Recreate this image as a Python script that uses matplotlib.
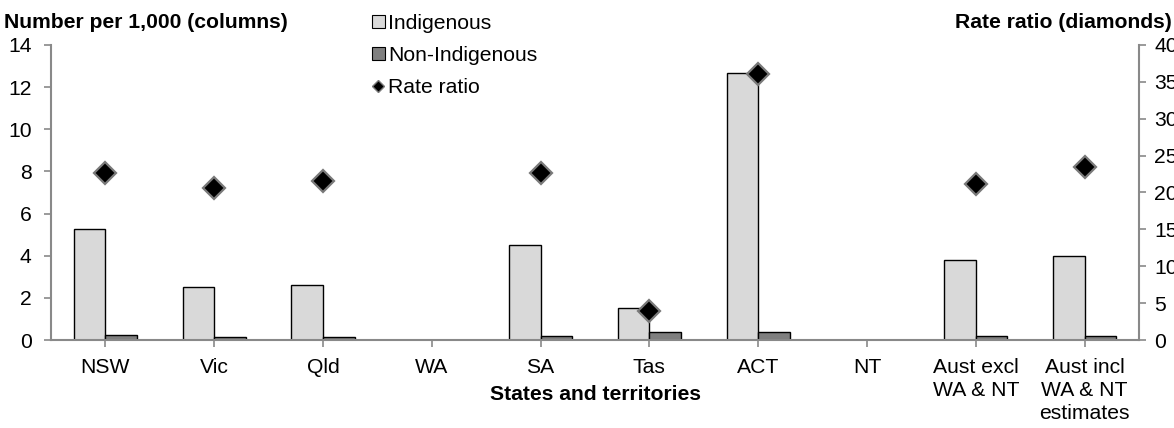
import matplotlib
matplotlib.use("Agg")
import matplotlib.pyplot as plt
import numpy as np
from matplotlib.lines import Line2D
from matplotlib.patches import Patch

categories = ["NSW", "Vic", "Qld", "WA", "SA", "Tas", "ACT", "NT",
              "Aust excl\nWA & NT", "Aust incl\nWA & NT\nestimates"]
indigenous = [5.25, 2.5, 2.6, np.nan, 4.5, 1.5, 12.65, np.nan, 3.8, 4.0]
non_indigenous = [0.25, 0.15, 0.15, np.nan, 0.2, 0.4, 0.38, np.nan, 0.2, 0.18]
rate_ratio = [22.7, 20.6, 21.5, np.nan, 22.6, 3.9, 36.1, np.nan, 21.1, 23.5]
left_ticks = [0, 2, 4, 6, 8, 10, 12, 14]
right_ticks = [0, 5, 10, 15, 20, 25, 30, 35, 40]

plt.rcParams['font.family'] = ['Liberation Sans', 'DejaVu Sans']
FS = 15.2
axis_col = '#898989'

fig = plt.figure(figsize=(11.74, 4.28), dpi=100)
ax = fig.add_axes([51/1174, 1-340/428, (1139-51)/1174, 295/428])
x = np.arange(len(categories))
w = 0.29
ax.bar(x - w/2, indigenous, w, color='#d9d9d9', edgecolor='black', linewidth=1.0, zorder=2)
ax.bar(x + w/2, non_indigenous, w, color='#7f7f7f', edgecolor='black', linewidth=1.0, zorder=2)
ax.set_xlim(-0.5, len(categories) - 0.5)
ax.set_ylim(0, 14)
ax.set_yticks(left_ticks)
ax.set_xticks(x)
ax.set_xticklabels(categories, fontsize=FS, linespacing=1.28)
ax.tick_params(axis='y', labelsize=FS, direction='out', length=5, width=1.2, color=axis_col, pad=9)
ax.tick_params(axis='x', direction='out', length=5, width=1.2, color=axis_col, pad=8)
for s in ['top', 'right']:
    ax.spines[s].set_visible(False)
for s in ['left', 'bottom']:
    ax.spines[s].set_color(axis_col)
    ax.spines[s].set_linewidth(1.5)

ax2 = ax.twinx()
ax2.set_ylim(0, 40)
ax2.set_yticks(right_ticks)
ax2.plot(x, rate_ratio, linestyle='none', marker='D', markersize=11.5,
         markerfacecolor='black', markeredgecolor='#7a7a7a', markeredgewidth=1.6, zorder=5)
ax2.tick_params(axis='y', labelsize=FS, direction='out', length=5, width=1.2, color=axis_col, pad=6)
for s in ['top', 'left', 'bottom']:
    ax2.spines[s].set_visible(False)
ax2.spines['right'].set_color(axis_col)
ax2.spines['right'].set_linewidth(1.5)

fig.text(4/1174, 1-22/428, "Number per 1,000 (columns)", fontsize=FS, fontweight='bold',
         ha='left', va='center')
fig.text(1172/1174, 1-22/428, "Rate ratio (diamonds)", fontsize=FS, fontweight='bold',
         ha='right', va='center')
fig.text(596/1174, 1-394/428, "States and territories", fontsize=FS, fontweight='bold',
         ha='center', va='center')

handles = [Patch(facecolor='#d9d9d9', edgecolor='black', linewidth=0.8),
           Patch(facecolor='#7f7f7f', edgecolor='black', linewidth=0.8),
           Line2D([], [], linestyle='none', marker='D', markersize=6,
                  markerfacecolor='black', markeredgecolor='#7a7a7a', markeredgewidth=1)]
fig.legend(handles, ["Indigenous", "Non-Indigenous", "Rate ratio"],
           loc='upper left', bbox_to_anchor=(372/1174, 1 - 14/428), frameon=False,
           fontsize=FS, handlelength=0.6, handleheight=0.6, handletextpad=0.15,
           labelspacing=0.62, borderaxespad=0, borderpad=0)

fig.savefig("out.png", dpi=100)
